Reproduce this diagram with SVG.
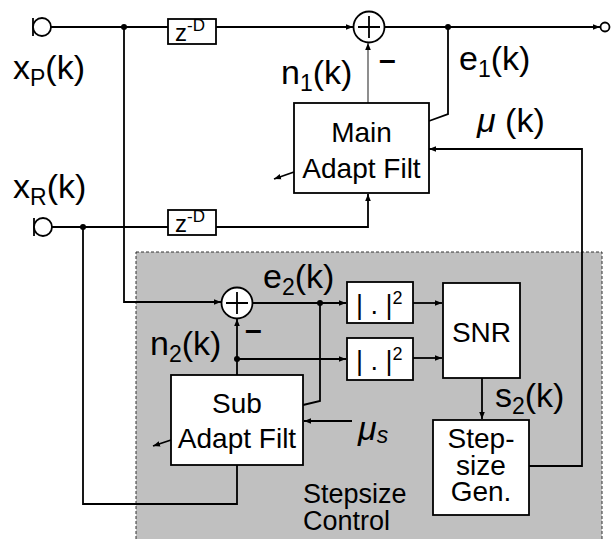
<svg xmlns="http://www.w3.org/2000/svg" width="615" height="539" viewBox="0 0 615 539">
<defs>
<marker id="ah" viewBox="0 0 10 10" refX="10" refY="5" markerWidth="7" markerHeight="7" markerUnits="userSpaceOnUse" orient="auto">
<path d="M0,1 L10,5 L0,9 Z" fill="#000"/>
</marker>
<style>
.w{fill:#fff;stroke:#000;stroke-width:1.8}
.c{fill:none;stroke:#000;stroke-width:1.8}
.t{font-family:"Liberation Sans",Arial,sans-serif;fill:#000}
.lb{font-size:34px}
.bx{font-size:28px;text-anchor:middle}
.dot{fill:#000}
</style>
</defs>
<rect x="0" y="0" width="615" height="539" fill="#fff"/>
<g id="stepsize-control">
<rect x="136" y="252" width="466" height="300" fill="#c0c0c0" stroke="#333" stroke-width="1" stroke-dasharray="3,2"/>
<text class="t" font-size="27" x="303" y="503">Stepsize</text>
<text class="t" font-size="27" x="303" y="530">Control</text>
</g>
<g id="connectors">
<path class="c" d="M51,27 H353" marker-end="url(#ah)"/>
<path class="c" d="M124,27 V302 H221" marker-end="url(#ah)"/>
<path class="c" d="M385,27 H600" marker-end="url(#ah)"/>
<path class="c" d="M448,27 V114 L429,121"/>
<path fill="none" stroke="#444" stroke-width="1.2" d="M368,103 V43" marker-end="url(#ah)"/>
<path class="c" d="M52,227 H368 V194" marker-end="url(#ah)"/>
<path class="c" d="M83,227 V504 H237 V465"/>
<path class="c" stroke-width="1.4" d="M294,172 L274,179" marker-end="url(#ah)"/>
<path class="c" d="M529,466 H582 V149 H429" marker-end="url(#ah)"/>
<path class="c" d="M253,303 H346" marker-end="url(#ah)"/>
<path class="c" d="M320,303 V401 L303,405"/>
<path class="c" d="M237,375 V319" marker-end="url(#ah)"/>
<path class="c" d="M237,359 H346" marker-end="url(#ah)"/>
<path class="c" d="M413,303 H442" marker-end="url(#ah)"/>
<path class="c" d="M413,358 H442" marker-end="url(#ah)"/>
<path class="c" d="M482,378 V419" marker-end="url(#ah)"/>
<path class="c" d="M352,421 H304" marker-end="url(#ah)"/>
<path class="c" stroke-width="1.4" d="M171,440 L153,446" marker-end="url(#ah)"/>
<circle class="dot" cx="124" cy="27" r="3"/>
<circle class="dot" cx="448" cy="27" r="3"/>
<circle class="dot" cx="83" cy="227" r="3"/>
<circle class="dot" cx="320" cy="303" r="3"/>
<circle class="dot" cx="237" cy="359" r="3"/>
</g>
<g id="input-p">
<path class="w" d="M33,18 V36"/>
<circle class="w" cx="42" cy="27" r="9"/>
</g>
<g id="input-r">
<path class="w" d="M34,218 V236"/>
<circle class="w" cx="43" cy="227" r="9"/>
</g>
<g id="output-e1">
<circle class="w" cx="605" cy="27" r="4.5"/>
</g>
<g id="delay-p">
<rect class="w" x="168" y="19" width="48" height="25"/>
<text class="t" x="175" y="41" font-size="24">z<tspan font-size="17" dy="-10">-D</tspan></text>
</g>
<g id="delay-r">
<rect class="w" x="168" y="210" width="48" height="25"/>
<text class="t" x="175" y="232" font-size="24">z<tspan font-size="17" dy="-10">-D</tspan></text>
</g>
<g id="sum1">
<circle class="w" cx="369" cy="27" r="15.5"/>
<path class="c" d="M358,27 H380 M369,16 V38"/>
</g>
<g id="sum2">
<circle class="w" cx="237" cy="303" r="15.5"/>
<path class="c" d="M226,303 H248 M237,292 V314"/>
</g>
<g id="main-filter">
<rect class="w" x="294" y="103" width="135" height="90"/>
<text class="t bx" x="361.5" y="142">Main</text>
<text class="t bx" x="361.5" y="178">Adapt Filt</text>
</g>
<g id="sub-filter">
<rect class="w" x="171" y="375" width="132" height="90"/>
<text class="t bx" x="237" y="413">Sub</text>
<text class="t bx" x="237" y="448">Adapt Filt</text>
</g>
<g id="square1">
<rect class="w" x="347" y="282" width="66" height="41"/>
<text class="t" x="356" y="314" font-size="27">| . |<tspan font-size="18" dy="-10">2</tspan></text>
</g>
<g id="square2">
<rect class="w" x="347" y="338" width="66" height="42"/>
<text class="t" x="356" y="370" font-size="27">| . |<tspan font-size="18" dy="-10">2</tspan></text>
</g>
<g id="snr">
<rect class="w" x="443" y="283" width="77" height="95"/>
<text class="t bx" x="481.5" y="342">SNR</text>
</g>
<g id="stepsize-gen">
<rect class="w" x="433" y="420" width="96" height="95"/>
<text class="t bx" font-size="27" x="481" y="448">Step-</text>
<text class="t bx" font-size="27" x="481" y="475">size</text>
<text class="t bx" font-size="27" x="481" y="501">Gen.</text>
</g>
<g id="labels">
<text class="t lb" x="13" y="79">x<tspan font-size="23" dy="7">P</tspan><tspan dy="-7">(k)</tspan></text>
<text class="t lb" x="13" y="198">x<tspan font-size="23" dy="7">R</tspan><tspan dy="-7">(k)</tspan></text>
<text class="t lb" x="281" y="84">n<tspan font-size="23" dy="7">1</tspan><tspan dy="-7">(k)</tspan></text>
<text class="t lb" x="459" y="70">e<tspan font-size="23" dy="7">1</tspan><tspan dy="-7">(k)</tspan></text>
<text class="t lb" x="477" y="132"><tspan font-style="italic">μ</tspan> (k)</text>
<text class="t lb" x="263" y="288">e<tspan font-size="23" dy="7">2</tspan><tspan dy="-7">(k)</tspan></text>
<text class="t lb" x="150" y="355">n<tspan font-size="23" dy="7">2</tspan><tspan dy="-7">(k)</tspan></text>
<text class="t lb" x="495" y="407">s<tspan font-size="23" dy="7">2</tspan><tspan dy="-7">(k)</tspan></text>
<text class="t lb" x="358" y="440"><tspan font-style="italic">μ</tspan><tspan font-size="23" font-style="italic" dy="3">s</tspan></text>
<text class="t" x="379" y="70" font-size="30" font-weight="bold">–</text>
<text class="t" x="245" y="340" font-size="30" font-weight="bold">–</text>
</g>
</svg>
